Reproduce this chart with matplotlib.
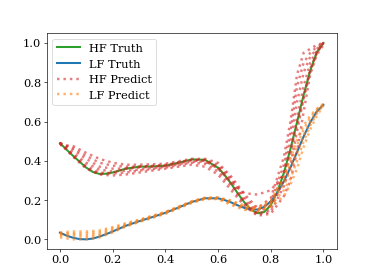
import matplotlib
matplotlib.use("Agg")
import matplotlib.pyplot as plt

plt.rcParams['font.family'] = 'serif'
plt.rcParams['font.size'] = 14

# truth curves
x_truth = [0.0, 0.025, 0.05, 0.075, 0.1, 0.125, 0.15, 0.175, 0.2, 0.25, 0.3,
           0.35, 0.4, 0.45, 0.5, 0.55, 0.6, 0.625, 0.65, 0.675, 0.7, 0.725,
           0.75, 0.775, 0.8, 0.825, 0.85, 0.875, 0.9, 0.925, 0.95, 0.975, 1.0]
hf_truth = [0.49, 0.457, 0.425, 0.395, 0.365, 0.343, 0.333, 0.334, 0.34, 0.36,
            0.37, 0.371, 0.375, 0.39, 0.407, 0.405, 0.365, 0.328, 0.283, 0.234,
            0.188, 0.151, 0.133, 0.139, 0.174, 0.241, 0.339, 0.461, 0.598,
            0.736, 0.86, 0.953, 1.0]
lf_truth = [0.034, 0.019, 0.008, 0.001, 0.0, 0.004, 0.014, 0.026, 0.04, 0.069,
            0.092, 0.113, 0.135, 0.162, 0.19, 0.209, 0.209, 0.2, 0.188, 0.173,
            0.16, 0.152, 0.152, 0.165, 0.193, 0.237, 0.295, 0.366, 0.445,
            0.524, 0.595, 0.652, 0.685]

# predictions
x_pred = [0.0, 0.05, 0.1, 0.15, 0.2, 0.25, 0.3, 0.4, 0.5, 0.55, 0.6, 0.65,
          0.7, 0.75, 0.8, 0.85, 0.875, 0.9, 0.925, 0.95, 0.975, 1.0]
hf_pred = [
    [0.49, 0.42, 0.36, 0.33, 0.325, 0.33, 0.34, 0.36, 0.38, 0.37, 0.33, 0.25,
     0.17, 0.12, 0.13, 0.22, 0.30, 0.45, 0.65, 0.84, 0.94, 0.99],
    [0.49, 0.43, 0.375, 0.34, 0.335, 0.34, 0.35, 0.365, 0.39, 0.385, 0.345, 0.27,
     0.18, 0.125, 0.14, 0.27, 0.38, 0.55, 0.72, 0.87, 0.95, 1.0],
    [0.49, 0.44, 0.39, 0.355, 0.345, 0.35, 0.355, 0.37, 0.395, 0.395, 0.36, 0.285,
     0.19, 0.13, 0.15, 0.31, 0.44, 0.62, 0.78, 0.90, 0.96, 1.0],
    [0.49, 0.455, 0.41, 0.37, 0.36, 0.36, 0.365, 0.375, 0.40, 0.40, 0.37, 0.30,
     0.20, 0.14, 0.17, 0.35, 0.50, 0.70, 0.85, 0.93, 0.97, 1.0],
    [0.49, 0.465, 0.425, 0.39, 0.375, 0.37, 0.37, 0.38, 0.405, 0.405, 0.38, 0.31,
     0.215, 0.15, 0.19, 0.38, 0.55, 0.78, 0.90, 0.95, 0.98, 1.0],
    [0.48, 0.475, 0.44, 0.41, 0.39, 0.38, 0.38, 0.385, 0.41, 0.41, 0.39, 0.32,
     0.23, 0.16, 0.21, 0.42, 0.60, 0.84, 0.95, 0.97, 0.99, 1.0],
    [0.49, 0.425, 0.365, 0.333, 0.34, 0.36, 0.37, 0.375, 0.405, 0.40, 0.36, 0.29,
     0.235, 0.228, 0.25, 0.33, 0.44, 0.58, 0.72, 0.85, 0.95, 1.0],
]
lf_pred = [
    [0.01, 0.0, 0.0, 0.01, 0.035, 0.065, 0.088, 0.13, 0.185, 0.205, 0.205,
     0.175, 0.15, 0.142, 0.165, 0.22, 0.28, 0.36, 0.47, 0.56, 0.63, 0.68],
    [0.02, 0.015, 0.01, 0.02, 0.04, 0.068, 0.09, 0.133, 0.188, 0.207, 0.208,
     0.182, 0.155, 0.147, 0.175, 0.25, 0.31, 0.40, 0.50, 0.58, 0.64, 0.685],
    [0.025, 0.025, 0.02, 0.028, 0.048, 0.072, 0.094, 0.136, 0.19, 0.209, 0.21,
     0.188, 0.16, 0.15, 0.185, 0.28, 0.35, 0.44, 0.53, 0.60, 0.65, 0.685],
    [0.03, 0.03, 0.03, 0.036, 0.055, 0.077, 0.097, 0.138, 0.192, 0.21, 0.212,
     0.193, 0.166, 0.155, 0.19, 0.30, 0.38, 0.48, 0.56, 0.62, 0.66, 0.69],
    [0.035, 0.04, 0.04, 0.045, 0.062, 0.082, 0.10, 0.14, 0.194, 0.212, 0.214,
     0.198, 0.172, 0.16, 0.2, 0.32, 0.41, 0.51, 0.58, 0.63, 0.665, 0.69],
]

fig, ax = plt.subplots(figsize=(6.4, 4.8), dpi=374 / 6.4)

ax.plot(x_truth, hf_truth, color='tab:green', lw=2.5, label='HF Truth')
ax.plot(x_truth, lf_truth, color='tab:blue', lw=2.5, label='LF Truth')

for i, yp in enumerate(hf_pred):
    ax.plot(x_pred, yp, ls=':', color='tab:red', lw=3, alpha=0.6,
            label='HF Predict' if i == 0 else None)
for i, yp in enumerate(lf_pred):
    ax.plot(x_pred, yp, ls=':', color='tab:orange', lw=3, alpha=0.6,
            label='LF Predict' if i == 0 else None)

ax.set_xticks([0.0, 0.2, 0.4, 0.6, 0.8, 1.0])
ax.set_yticks([0.0, 0.2, 0.4, 0.6, 0.8, 1.0])
ax.legend(loc='upper left')

plt.savefig("out.png")
